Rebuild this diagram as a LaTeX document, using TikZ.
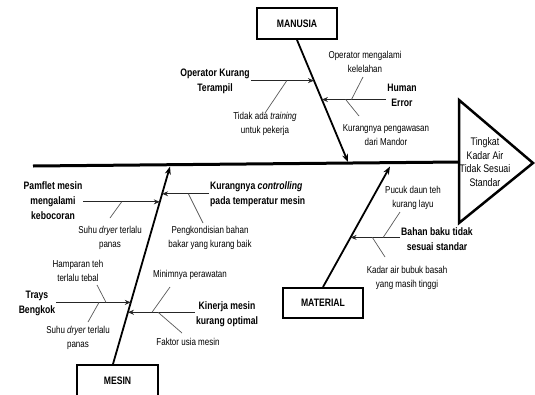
\documentclass[tikz,border=0pt]{standalone}
\usepackage{fontspec}
\setmainfont{Liberation Sans}[FakeStretch=0.8]
\usetikzlibrary{arrows.meta,calc}

\begin{document}
\begin{tikzpicture}[x=1pt, y=-1pt,
    catbox/.style={draw, line width=2pt, minimum width=80pt, minimum height=31pt,
        font=\fontsize{10.8}{12}\selectfont\bfseries},
    bone/.style={line width=1.8pt, -{Stealth[length=8pt,width=6pt]}},
    cause/.style={line width=1.2pt, black!85, -{Stealth[length=6pt,width=5pt]}},
    sub/.style={line width=0.7pt, black!65},
    causetext/.style={align=center, inner sep=1pt, font=\fontsize{10.8}{15}\selectfont\bfseries},
    subtext/.style={align=center, inner sep=1pt, font=\fontsize{10}{14}\selectfont}]
                \clip (0,0) rectangle (535,394);
                % Spine and head
                \coordinate (tail) at (33,166);
                \coordinate (head) at (459,162);
                \coordinate (tritop) at (459,100);
                \coordinate (tritip) at (533,163);
                \coordinate (tribot) at (459,223);
                \draw[line width=3pt] (tail) -- (head);
                \draw[line width=2.5pt, line join=miter] (tritop) -- (tritip) -- (tribot) -- cycle;
                \node[align=center, inner sep=1pt, font=\fontsize{11}{13.5}\selectfont] (effect) at (485,162)
                    {Tingkat\\Kadar Air\\Tidak Sesuai\\Standar};
                % Categories
                \node[catbox] (manusia) at (297,23.5) {MANUSIA};
                \node[catbox, minimum width=81pt, minimum height=32pt] (mesin) at (117.5,381) {MESIN};
                \node[catbox, minimum height=30pt] (material) at (323,303) {MATERIAL};
                \coordinate (m1) at (348,162);
                \coordinate (m2) at (170,166.5);
                \coordinate (m3) at (390,166.5);
                \coordinate (mesinbase) at ([xshift=-4.5pt]mesin.north);
                \draw[bone] (manusia.south) -- (m1);
                \draw[bone] (mesinbase) -- (m2);
                \draw[bone] (material.north) -- (m3);
                % Manusia
                \node[causetext] (opr) at (215,81) {Operator Kurang\\Terampil};
                \node[causetext] (human) at (402,95) {Human\\Error};
                \node[subtext] (lelah) at (365,62) {Operator mengalami\\kelelahan};
                \node[subtext] (awas) at (386,135) {Kurangnya pengawasan\\dari Mandor};
                \node[subtext] (train) at (265,124) {Tidak ada \textit{training}\\untuk pekerja};
                \coordinate (pOpr) at ($(manusia.south)!0.333!(m1)$);
                \coordinate (pHum) at ($(manusia.south)!0.488!(m1)$);
                \draw[cause] (opr.east |- pOpr) -- (pOpr);
                \draw[cause] (human.west |- pHum) -- (pHum);
                \coordinate (jTrain) at ($(opr.east |- pOpr)!0.57!(pOpr)$);
                \coordinate (jLelah) at ($(human.west |- pHum)!0.54!(pHum)$);
                \coordinate (jAwas) at ($(human.west |- pHum)!0.63!(pHum)$);
                \coordinate (eTrain) at (265,113);
                \coordinate (eLelah) at (363,77);
                \coordinate (eAwas) at (359,116);
                % Mesin
                \node[causetext] (pamf) at (53,201) {Pamflet mesin\\mengalami\\kebocoran};
                \node[causetext, align=left, anchor=west] (ctrl) at (209,194)
                    {Kurangnya \textit{controlling}\\pada temperatur mesin};
                \node[causetext] (trays) at (37,303.5) {Trays\\Bengkok};
                \node[causetext] (kin) at (227,314) {Kinerja mesin\\kurang optimal};
                \node[subtext] (dryer1) at (110,237.5) {Suhu \textit{dryer} terlalu\\panas};
                \node[subtext] (kondisi) at (210,238) {Pengkondisian bahan\\bakar yang kurang baik};
                \node[subtext] (hampar) at (78,271) {Hamparan teh\\terlalu tebal};
                \node[subtext] (dryer2) at (78,337.5) {Suhu \textit{dryer} terlalu\\panas};
                \node[subtext] (rawat) at (190,275) {Minimnya perawatan};
                \node[subtext] (usia) at (188,342) {Faktor usia mesin};
                \coordinate (pPam) at ($(mesinbase)!0.821!(m2)$);
                \coordinate (pCtl) at ($(mesinbase)!0.862!(m2)$);
                \coordinate (pTra) at ($(mesinbase)!0.312!(m2)$);
                \coordinate (pKin) at ($(mesinbase)!0.262!(m2)$);
                \draw[cause] (pamf.east |- pPam) -- (pPam);
                \draw[cause] (ctrl.west |- pCtl) -- (pCtl);
                \draw[cause] (trays.east |- pTra) -- (pTra);
                \draw[cause] (kin.west |- pKin) -- (pKin);
                \coordinate (jDry1) at ($(pamf.east |- pPam)!0.5!(pPam)$);
                \coordinate (jKond) at ($(ctrl.west |- pCtl)!0.44!(pCtl)$);
                \coordinate (jHamp) at ($(trays.east |- pTra)!0.667!(pTra)$);
                \coordinate (jDry2) at ($(trays.east |- pTra)!0.573!(pTra)$);
                \coordinate (jRawat) at ($(kin.west |- pKin)!0.64!(pKin)$);
                \coordinate (jUsia) at ($(kin.west |- pKin)!0.55!(pKin)$);
                \coordinate (eDry1) at (110,218);
                \coordinate (eKond) at (203,223);
                \coordinate (eHamp) at (97,285);
                \coordinate (eDry2) at (88,322);
                \coordinate (eRawat) at (170,287);
                \coordinate (eUsia) at (182,333);
                % Material
                \node[causetext] (bahan) at (437,239.5) {Bahan baku tidak\\sesuai standar};
                \node[subtext] (pucuk) at (413,198) {Pucuk daun teh\\kurang layu};
                \node[subtext] (kadar) at (407,278) {Kadar air bubuk basah\\yang masih tinggi};
                \coordinate (pBah) at ($(material.north)!0.4115!(m3)$);
                \draw[cause] (bahan.west |- pBah) -- (pBah);
                \coordinate (jPucuk) at ($(bahan.west |- pBah)!0.34!(pBah)$);
                \coordinate (jKadar) at ($(bahan.west |- pBah)!0.56!(pBah)$);
                \coordinate (ePucuk) at (400,212);
                \coordinate (eKadar) at (385,257);
                % Sub-causes
                \foreach \j/\e in {jTrain/eTrain, jLelah/eLelah, jAwas/eAwas, jDry1/eDry1, jKond/eKond,
                    jHamp/eHamp, jDry2/eDry2, jRawat/eRawat, jUsia/eUsia, jPucuk/ePucuk, jKadar/eKadar}
                    \draw[sub] (\j) -- (\e);
            \end{tikzpicture}
\end{document}
